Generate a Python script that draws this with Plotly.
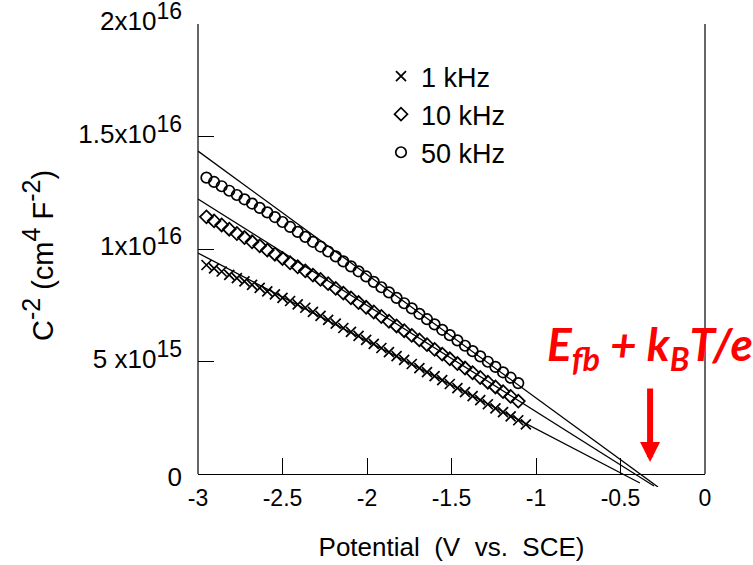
import plotly.graph_objects as go

# ---------------- data ----------------
potential_50k = [-2.95, -2.905, -2.86, -2.815, -2.77, -2.725, -2.68, -2.635, -2.59, -2.545,
                 -2.50, -2.455, -2.41, -2.365, -2.32, -2.275, -2.23, -2.185, -2.14, -2.095,
                 -2.05, -2.005, -1.96, -1.915, -1.87, -1.825, -1.78, -1.735, -1.69, -1.645,
                 -1.60, -1.555, -1.51, -1.465, -1.42, -1.375, -1.33, -1.285, -1.24, -1.195,
                 -1.15, -1.105]
c2_50k = [1.317, 1.298, 1.279, 1.259, 1.240, 1.221, 1.202, 1.183, 1.163, 1.142,
          1.120, 1.098, 1.076, 1.054, 1.032, 1.011, 0.989, 0.967, 0.945, 0.923,
          0.901, 0.878, 0.854, 0.830, 0.807, 0.783, 0.759, 0.736, 0.712, 0.688,
          0.665, 0.641, 0.617, 0.594, 0.570, 0.546, 0.523, 0.499, 0.476, 0.452,
          0.428, 0.404]  # x1e16

potential_10k = list(potential_50k)
c2_10k = [1.143, 1.125, 1.107, 1.088, 1.069, 1.051, 1.032, 1.014, 0.995, 0.977,
          0.958, 0.939, 0.921, 0.903, 0.884, 0.865, 0.846, 0.825, 0.804, 0.783,
          0.762, 0.741, 0.720, 0.700, 0.679, 0.658, 0.637, 0.616, 0.596, 0.575,
          0.554, 0.533, 0.512, 0.491, 0.471, 0.450, 0.429, 0.408, 0.387, 0.366,
          0.345, 0.324]  # x1e16

potential_1k = potential_50k + [-1.06]
c2_1k = [0.929, 0.914, 0.900, 0.885, 0.871, 0.856, 0.841, 0.827, 0.812, 0.798,
         0.783, 0.769, 0.754, 0.739, 0.721, 0.703, 0.685, 0.668, 0.649, 0.632,
         0.614, 0.596, 0.578, 0.560, 0.542, 0.524, 0.507, 0.489, 0.471, 0.453,
         0.435, 0.417, 0.400, 0.382, 0.364, 0.346, 0.328, 0.310, 0.292, 0.275,
         0.256, 0.239, 0.221]  # x1e16

# linear (Mott-Schottky) fit lines: end points
fit_x_1k = [-3.0, -0.385]
fit_y_1k = [9.82e15, -4.0e14]
fit_x_10k = [-3.0, -0.302]
fit_y_10k = [1.222e16, -5.3e14]
fit_x_50k = [-3.0, -0.278]
fit_y_50k = [1.435e16, -5.8e14]

series_names = ["1 kHz", "10 kHz", "50 kHz"]

x_tick_vals = [-3, -2.5, -2, -1.5, -1, -0.5, 0]
x_tick_text = ["-3", "-2.5", "-2", "-1.5", "-1", "-0.5", "0"]
SUP = "<sup><span style='font-size:23px'>%s</span></sup>"
y_tick_vals = [0, 5e15, 1e16, 1.5e16, 2e16]
y_tick_text = ["<sub><span style='font-size:26px'>0</span></sub>",
               "5 x10" + SUP % "15", "1x10" + SUP % "16",
               "1.5x10" + SUP % "16", "2x10" + SUP % "16"]

arrow_x = -0.325
arrow_y = 5.3e14

# ---------------- figure ----------------
FONT = "Liberation Sans, Arial, Helvetica, sans-serif"
W, H = 753, 565
ML, MR, MT, MB = 198, 48, 24, 78
plot_h = H - MT - MB
y_top = 2e16
per_px = y_top / 450.0
y_bottom = -(plot_h - 450) * per_px

fig = go.Figure()

line_style = dict(color="black", width=1.3)
for fx, fy in [(fit_x_1k, fit_y_1k), (fit_x_10k, fit_y_10k), (fit_x_50k, fit_y_50k)]:
    fig.add_trace(go.Scatter(x=fx, y=fy, mode="lines", line=line_style,
                             showlegend=False, hoverinfo="skip"))

scale = 1e16
fig.add_trace(go.Scatter(
    x=potential_1k, y=[v * scale for v in c2_1k], mode="markers", name=series_names[0],
    legendgroup="a",
    marker=dict(symbol="x-thin-open", size=10, color="black",
                line=dict(color="black", width=1.7))))
fig.add_trace(go.Scatter(
    x=potential_10k, y=[v * scale for v in c2_10k], mode="markers", name=series_names[1],
    legendgroup="b",
    marker=dict(symbol="diamond-open", size=10, color="black",
                line=dict(color="black", width=1.7))))
fig.add_trace(go.Scatter(
    x=potential_50k, y=[v * scale for v in c2_50k], mode="markers", name=series_names[2],
    legendgroup="c",
    marker=dict(symbol="circle-open", size=10.5, color="black",
                line=dict(color="black", width=1.7))))

# vertical frame lines (y from 0 to top)
for xp in (0, 1):
    fig.add_shape(type="line", xref="paper", yref="y", x0=xp, x1=xp,
                  y0=0, y1=y_top, line=dict(color="black", width=1.2))

fig.add_annotation(
    x=arrow_x, y=arrow_y, xref="x", yref="y", text="", showarrow=True,
    ax=0, ay=-75, arrowhead=2, arrowsize=0.667, arrowwidth=6, arrowcolor="#ff0000")

fig.add_annotation(
    x=(650 - ML) / (W - ML - MR), y=1 - (347 - MT) / plot_h, xref="paper", yref="paper",
    text="E<sub>fb</sub> + k<sub>B</sub>T/e", showarrow=False,
    xanchor="center", yanchor="middle",
    font=dict(family="Lato, Open Sans, sans-serif", size=46, color="#ff0000",
              weight="bold", style="italic"))

SUPT = "<sup><span style='font-size:25px'>%s</span></sup>"
fig.update_layout(
    width=W, height=H,
    margin=dict(l=ML, r=MR, t=MT, b=MB, pad=0, autoexpand=False),
    paper_bgcolor="white", plot_bgcolor="white",
    font=dict(family=FONT, size=24, color="black"),
    showlegend=True,
    legend=dict(x=(381 - ML) / (W - ML - MR), y=1 - (52 - MT) / plot_h,
                xanchor="left", yanchor="top", bgcolor="rgba(0,0,0,0)",
                font=dict(family=FONT, size=27, color="black"),
                tracegroupgap=0, itemsizing="trace"),
    xaxis=dict(range=[-3, 0], anchor="free", position=(plot_h - 450) / plot_h,
               showline=True, mirror=True, linecolor="black", linewidth=1.2,
               ticks="inside", ticklen=16, tickwidth=1, tickcolor="black",
               tickvals=x_tick_vals, ticktext=x_tick_text, ticklabelstandoff=3,
               showgrid=False, zeroline=False, automargin=False,
               tickfont=dict(family=FONT, size=23, color="black"),
               title=dict(text="Potential  (V  vs.  SCE)", standoff=28,
                          font=dict(family=FONT, size=26, color="black"))),
    yaxis=dict(range=[y_bottom, y_top], showline=False,
               ticks="inside", ticklen=16, tickwidth=1, tickcolor="black",
               tickvals=y_tick_vals, ticktext=y_tick_text,
               showgrid=False, zeroline=False, ticklabelstandoff=15,
               ticklabelshift=-3, ticklabeloverflow="allow", automargin=False,
               tickfont=dict(family=FONT, size=26, color="black"),
               title=dict(text="C" + SUPT % "-2" + " (cm" + SUPT % "4" + " F" + SUPT % "-2" + ")",
                          standoff=16,
                          font=dict(family=FONT, size=29, color="black"))),
)

fig.write_html("out.html")
